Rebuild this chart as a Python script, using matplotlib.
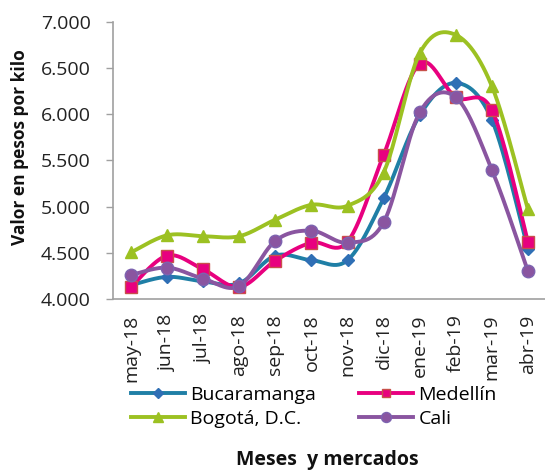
import numpy as np
import matplotlib
matplotlib.use('Agg')
import matplotlib.pyplot as plt
from matplotlib.ticker import FuncFormatter

plt.rcParams['font.family'] = ['Open Sans', 'DejaVu Sans']

meses = ['may-18', 'jun-18', 'jul-18', 'ago-18', 'sep-18', 'oct-18',
         'nov-18', 'dic-18', 'ene-19', 'feb-19', 'mar-19', 'abr-19']

bucaramanga = [4150, 4240, 4190, 4170, 4470, 4420, 4420, 5090, 5990, 6340, 5940, 4540]
medellin = [4130, 4470, 4320, 4130, 4415, 4610, 4620, 5560, 6550, 6185, 6045, 4615]
bogota = [4505, 4690, 4680, 4680, 4860, 5020, 5010, 5370, 6660, 6860, 6305, 4970]
cali = [4260, 4340, 4220, 4140, 4630, 4740, 4610, 4830, 6020, 6185, 5400, 4300]

series = [
    ('Bucaramanga', bucaramanga, '#1f7fa6', 'D', '#2f6fb5', '#2f6fb5', 6),
    ('Medellín', medellin, '#e8007f', 's', '#e8007f', '#c8504a', 8),
    ('Bogotá, D.C.', bogota, '#9cc122', '^', '#9cc122', '#9cc122', 9),
    ('Cali', cali, '#8a55a0', 'o', '#8a55a0', '#7d63b0', 9),
]


def smooth(x, y, n=30):
    # bezier through the points, like excel's smoothed line
    x = np.asarray(x, float)
    y = np.asarray(y, float)
    px = np.concatenate([[x[0]], x, [x[-1]]])
    py = np.concatenate([[y[0]], y, [y[-1]]])
    xs, ys = [], []
    t = np.linspace(0, 1, n)
    for i in range(1, len(x)):
        p0 = np.array([px[i], py[i]])
        p3 = np.array([px[i + 1], py[i + 1]])
        c1 = p0 + (np.array([px[i + 1], py[i + 1]]) - np.array([px[i - 1], py[i - 1]])) / 6
        c2 = p3 - (np.array([px[i + 2], py[i + 2]]) - np.array([px[i], py[i]])) / 6
        b = ((1 - t)[:, None] ** 3 * p0 + 3 * ((1 - t) ** 2 * t)[:, None] * c1
             + 3 * ((1 - t) * t ** 2)[:, None] * c2 + (t ** 3)[:, None] * p3)
        xs.extend(b[:, 0])
        ys.extend(b[:, 1])
    return xs, ys


fig = plt.figure(figsize=(5.45, 4.7), dpi=100)
ax = fig.add_axes([113 / 545, 1 - 299 / 470, 433 / 545, 277 / 470])

pos = np.arange(len(meses))
handles = {}
for k, (name, vals, lc, mk, mfc, mec, ms) in enumerate(series):
    sx, sy = smooth(pos, vals)
    ax.plot(sx, sy, color=lc, lw=2.8, zorder=2 + k, solid_capstyle='round')
    ax.plot(pos, vals, ls='none', marker=mk, ms=ms, mfc=mfc, mec=mec,
            mew=1, zorder=2 + k)
    h, = ax.plot([], [], color=lc, lw=2.8, marker=mk, ms=ms, mfc=mfc, mec=mec, mew=1)
    handles[name] = h

ax.set_xlim(-0.5, len(meses) - 0.5)
ax.set_ylim(4000, 7000)
ax.set_yticks(np.arange(4000, 7001, 500))
ax.yaxis.set_major_formatter(FuncFormatter(lambda v, p: f'{int(v):,}'.replace(',', '.')))
ax.set_xticks(pos)
ax.set_xticklabels(meses, rotation=90, fontsize=14, color='#222222')
ax.tick_params(axis='x', length=0, pad=11)
ax.tick_params(axis='y', length=5, width=1, color='#a0a0a0', pad=11,
               labelsize=14, labelcolor='#222222')

for s in ['top', 'right']:
    ax.spines[s].set_visible(False)
for s in ['left', 'bottom']:
    ax.spines[s].set_color('#a0a0a0')
    ax.spines[s].set_linewidth(1.2)

# legend filled column-wise, so order to get rows Buc/Med, Bog/Cali
order = ['Bucaramanga', 'Bogotá, D.C.', 'Medellín', 'Cali']
fig.legend([handles[n] for n in order], order, ncol=2, frameon=False,
           loc='upper left', bbox_to_anchor=(131 / 545, 1 - 386 / 470),
           fontsize=14, handlelength=2.8, handletextpad=0.25, markerscale=0.8,
           columnspacing=2.2, labelspacing=0.3, borderpad=0, borderaxespad=0)

fig.text(20 / 545, 1 - 147 / 470, 'Valor en pesos por kilo', rotation=90,
         ha='center', va='center', fontsize=12.5, fontweight='bold', color='#111111')
fig.text(327 / 545, 1 - 460 / 470, 'Meses  y mercados', ha='center', va='center',
         fontsize=14, fontweight='bold', color='#111111')

fig.savefig('out.png', dpi=100)
